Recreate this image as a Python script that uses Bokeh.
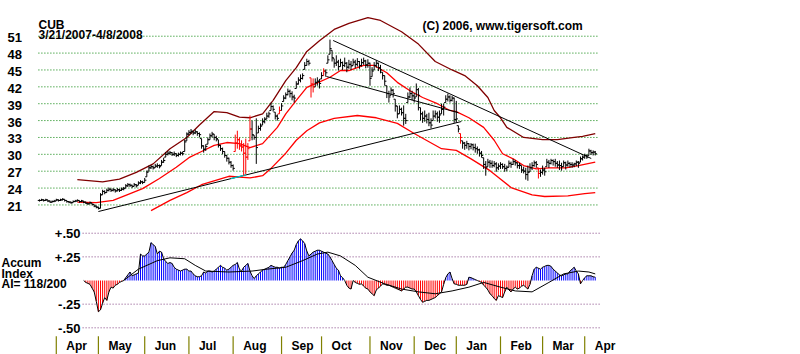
from bokeh.plotting import figure
from bokeh.models import Range1d, Label, ColumnDataSource
from bokeh.embed import file_html
from bokeh.resources import INLINE

# ---------------- data ----------------
closes = [
    21.8, 21.9, 21.8, 21.9, 21.7, 21.5, 21.6, 21.7, 21.9, 21.8,
    21.9, 22.0, 21.8, 21.6, 21.5, 21.4, 21.6, 21.7, 21.8, 21.6,
    21.7, 21.5, 21.3, 21.2, 21.4, 21.1, 20.8, 20.6, 20.4, 22.8,
    23.4, 23.2, 23.6, 23.8, 23.6, 23.7, 23.5, 23.7, 23.6, 23.8,
    23.9, 24.4, 24.6, 24.5, 24.3, 24.6, 24.4, 24.9, 25.1, 25.0,
    25.4, 26.8, 27.6, 27.8, 27.6, 27.9, 28.0, 27.8, 28.6, 28.9,
    30.0, 30.2, 30.3, 30.0, 30.1, 29.8, 30.0, 30.2, 30.1, 32.2,
    33.6, 33.9, 34.1, 33.8, 34.0, 33.7, 33.5, 31.5, 30.9, 31.4,
    32.6, 33.3, 33.6, 33.0, 32.8, 31.6, 31.0, 30.5, 29.8, 29.3,
    28.6, 28.0, 27.5, 32.0, 32.6, 31.5, 31.3, 30.2, 29.5, 31.0,
    34.5, 33.5, 33.0, 31.2, 34.6, 35.0, 35.8, 36.2, 36.8, 37.2,
    38.5, 38.0, 36.8, 36.4, 37.8, 38.6, 40.0, 40.6, 41.2, 40.8,
    40.2, 40.0, 42.5, 43.2, 43.5, 44.0, 45.8, 46.5, 46.2, 42.5,
    42.0, 42.8, 43.0, 42.6, 44.0, 44.8, 44.5, 46.8, 48.8, 47.2,
    46.2, 46.4, 45.6, 46.3, 45.8, 46.2, 45.5, 46.0, 45.7, 46.4,
    46.0, 46.5, 45.8, 46.3, 46.6, 45.9, 46.2, 43.5, 44.8, 45.8,
    46.2, 45.4, 45.0, 44.0, 43.0, 40.8, 40.2, 41.4, 40.8, 38.6,
    37.2, 38.0, 37.4, 36.4, 36.0, 40.2, 40.8, 40.4, 40.0, 41.5,
    40.5, 37.2, 36.4, 36.8, 36.2, 35.6, 35.2, 36.8, 37.2, 36.6,
    37.0, 38.0, 38.4, 39.8, 40.2, 39.6, 40.0, 36.2, 36.3, 34.5,
    33.0, 32.0, 31.6, 31.9, 31.4, 31.7, 31.2, 31.0, 30.8, 30.2,
    29.8, 28.2, 27.6, 28.6, 28.4, 28.0, 28.3, 27.6, 27.9, 28.2,
    27.8, 27.5, 27.7, 28.4, 28.2, 28.7, 28.5, 28.0, 28.1, 27.2,
    27.0, 26.4, 26.8, 27.6, 28.0, 28.5, 28.2, 26.6, 26.8, 27.2,
    26.9, 28.6, 28.4, 28.9, 28.7, 28.4, 28.1, 28.0, 27.8, 28.5,
    28.1, 28.4, 28.2, 28.1, 28.3, 28.6, 28.4, 29.2, 29.5, 29.8,
    29.5, 30.6, 30.3, 30.4, 30.1,
]
highs = [
    22.0, 22.1, 22.0, 22.1, 21.9, 21.8, 21.8, 21.9, 22.1, 22.0,
    22.1, 22.2, 22.0, 21.8, 21.7, 21.6, 21.8, 21.9, 22.0, 21.8,
    21.9, 21.7, 21.6, 21.4, 21.6, 21.3, 21.1, 20.9, 20.7, 23.1,
    23.7, 23.6, 23.9, 24.1, 23.9, 24.0, 23.8, 24.0, 23.9, 24.1,
    24.2, 24.7, 24.9, 24.8, 24.6, 24.9, 24.7, 25.2, 25.4, 25.3,
    25.8, 27.1, 28.0, 28.1, 28.0, 28.3, 28.4, 28.2, 29.0, 29.4,
    30.4, 30.6, 30.6, 30.4, 30.5, 30.2, 30.3, 30.5, 30.5, 32.6,
    33.9, 34.3, 34.5, 34.2, 34.4, 34.1, 33.9, 32.8, 31.6, 31.8,
    33.0, 33.7, 34.0, 33.6, 33.3, 32.6, 31.7, 31.2, 30.5, 29.9,
    29.4, 28.8, 28.2, 33.5, 34.2, 33.0, 32.5, 32.0, 32.8, 32.0,
    36.9, 36.0, 33.4, 36.4, 35.1, 35.5, 36.4, 36.6, 37.4, 37.6,
    39.2, 38.7, 37.5, 37.1, 38.5, 39.1, 40.5, 41.0, 41.7, 41.5,
    41.2, 40.6, 43.0, 43.7, 44.2, 44.4, 46.4, 47.0, 46.8, 43.6,
    43.5, 43.5, 43.7, 43.4, 44.6, 45.3, 45.1, 47.6, 50.4, 48.5,
    47.0, 47.6, 46.8, 47.0, 46.5, 47.2, 46.4, 46.8, 46.6, 47.0,
    46.8, 47.1, 46.6, 47.0, 47.2, 46.8, 46.9, 46.3, 45.5, 46.4,
    46.7, 46.3, 45.9, 44.6, 44.0, 42.2, 41.3, 41.9, 41.6, 39.8,
    38.6, 38.7, 38.3, 38.7, 37.2, 41.0, 41.9, 41.3, 40.9, 42.6,
    41.8, 38.3, 37.6, 37.8, 37.2, 37.4, 36.4, 37.8, 37.8, 37.6,
    37.8, 39.0, 39.0, 40.5, 40.8, 40.5, 40.4, 40.1, 39.5, 35.1,
    33.7, 32.4, 32.2, 32.4, 32.0, 32.0, 31.9, 31.9, 31.4, 31.0,
    30.6, 29.4, 28.8, 29.2, 29.0, 28.9, 28.8, 28.6, 28.4, 28.6,
    28.4, 28.3, 28.0, 28.9, 28.7, 29.2, 29.0, 28.6, 28.5, 28.0,
    27.8, 27.6, 28.0, 28.4, 28.6, 28.9, 28.8, 27.6, 27.3, 28.0,
    27.6, 29.2, 29.0, 29.2, 29.1, 29.2, 28.8, 28.9, 28.5, 28.9,
    28.7, 28.9, 28.6, 28.6, 28.5, 28.9, 28.8, 29.6, 29.8, 30.1,
    30.0, 31.0, 30.8, 30.7, 30.6,
]
lows = [
    21.6, 21.7, 21.6, 21.7, 21.5, 21.4, 21.4, 21.5, 21.7, 21.6,
    21.7, 21.8, 21.6, 21.4, 21.3, 21.2, 21.4, 21.5, 21.6, 21.4,
    21.5, 21.3, 21.2, 21.0, 21.2, 20.9, 20.6, 20.4, 20.2, 20.4,
    22.8, 22.9, 23.2, 23.4, 23.3, 23.4, 23.2, 23.4, 23.3, 23.5,
    23.6, 24.0, 24.2, 24.2, 24.0, 24.3, 24.1, 24.5, 24.7, 24.7,
    25.0, 26.0, 27.0, 27.4, 27.3, 27.6, 27.6, 27.5, 28.0, 28.5,
    29.5, 29.8, 29.9, 29.7, 29.7, 29.5, 29.6, 29.8, 29.8, 30.5,
    32.4, 33.4, 33.6, 33.4, 33.6, 33.3, 33.0, 31.0, 30.3, 30.6,
    31.8, 32.6, 33.0, 32.5, 32.3, 31.2, 30.6, 30.0, 29.4, 28.7,
    28.2, 27.6, 27.1, 30.5, 31.0, 30.8, 30.5, 26.2, 26.5, 29.0,
    32.4, 32.5, 32.6, 28.3, 33.8, 34.2, 35.2, 35.5, 36.3, 36.5,
    37.8, 37.6, 36.2, 36.0, 37.2, 37.8, 39.4, 39.8, 40.5, 40.1,
    39.6, 39.2, 41.7, 42.4, 42.8, 43.3, 45.1, 45.8, 45.8, 40.1,
    41.0, 42.0, 42.2, 41.7, 43.4, 44.0, 43.8, 46.2, 47.8, 46.5,
    45.4, 45.7, 44.9, 45.6, 45.0, 45.5, 44.6, 45.2, 45.0, 45.8,
    45.3, 45.6, 45.2, 45.6, 45.9, 45.3, 45.4, 42.2, 43.8, 45.0,
    45.4, 44.8, 44.4, 43.3, 42.2, 40.0, 39.2, 40.5, 40.1, 37.6,
    36.4, 37.2, 36.9, 35.1, 35.4, 39.2, 40.0, 39.6, 39.2, 40.2,
    37.8, 36.0, 35.6, 35.8, 35.5, 35.0, 34.6, 36.0, 36.4, 35.8,
    35.6, 37.2, 36.9, 39.2, 39.4, 39.2, 39.4, 35.6, 35.6, 33.9,
    31.9, 31.0, 30.8, 31.0, 30.7, 30.9, 30.7, 30.3, 30.1, 29.6,
    29.4, 27.4, 26.2, 27.8, 27.6, 27.6, 27.7, 26.9, 27.2, 27.4,
    27.4, 26.9, 27.0, 27.7, 27.6, 28.1, 28.0, 27.5, 27.4, 26.7,
    26.6, 25.5, 25.3, 26.9, 27.2, 27.8, 27.6, 25.7, 26.0, 26.4,
    26.2, 27.8, 27.6, 28.2, 28.0, 27.8, 27.6, 27.2, 27.1, 27.8,
    27.3, 27.8, 27.6, 27.6, 27.7, 27.9, 27.6, 28.6, 28.9, 29.2,
    29.2, 29.8, 29.9, 29.8, 29.8,
]
red_bars = [93, 94, 95, 96, 97, 98, 99, 100, 114, 129, 130, 135, 200, 237]

upper_idx = [18, 30, 38, 46, 54, 62, 70, 76, 83, 89, 95, 100, 106, 111, 117, 122,
             127, 133, 140, 147, 156, 162, 172, 180, 188, 196, 202, 208, 213, 216,
             219, 222, 230, 239, 246, 254, 258, 264]
upper_val = [25.5, 25.1, 25.6, 26.8, 28.3, 31.0, 33.0, 35.2, 37.6, 37.4, 36.6, 36.5,
             37.2, 39.6, 43.1, 45.4, 48.3, 50.2, 52.2, 53.3, 54.3, 53.8, 51.8, 49.6,
             46.5, 45.0, 44.0, 42.2, 40.1, 37.8, 36.5, 34.8, 33.0, 32.6, 32.6, 33.0,
             33.2, 33.7]
mid_idx = [18, 27, 35, 41, 49, 57, 65, 71, 77, 83, 89, 95, 100, 106, 113, 117, 122,
           127, 132, 138, 143, 147, 154, 159, 165, 170, 176, 182, 189, 195, 198, 204,
           211, 216, 220, 225, 230, 236, 242, 250, 256, 264]
mid_val = [21.5, 21.4, 21.8, 22.7, 23.9, 25.7, 27.7, 29.4, 30.5, 31.6, 32.1, 31.9,
           31.2, 31.9, 34.8, 37.2, 39.6, 41.9, 42.7, 43.7, 44.9, 44.9, 45.8, 45.8,
           44.5, 42.8, 41.3, 40.1, 39.0, 37.8, 37.6, 36.5, 34.8, 32.5, 30.1, 29.2,
           28.0, 27.4, 27.6, 27.6, 28.0, 28.6]
lower_idx = [53, 62, 70, 77, 90, 100, 106, 110, 117, 122, 127, 133, 140, 151, 160,
             170, 178, 191, 198, 205, 214, 224, 234, 240, 251, 259, 264]
lower_val = [20.0, 21.8, 23.2, 24.6, 26.1, 25.8, 26.2, 27.5, 30.2, 32.5, 34.2, 35.6,
             36.4, 36.9, 36.5, 35.5, 33.7, 31.0, 30.7, 29.2, 27.1, 24.1, 22.8, 22.5,
             22.6, 23.0, 23.2]

rise_line_idx = [28, 200.4]
rise_line_val = [19.83, 35.83]
rise_cyan_idx = [91, 98]
rise_cyan_val = [25.68, 26.33]
fall_line_idx = [139.5, 262.1]
fall_line_val = [50.24, 29.26]
chan_line_idx = [136.3, 199.0]
chan_line_val = [43.84, 37.4]

ai_start = 21
ai_vals = [
    0.00, -0.02, -0.03, -0.04, -0.08, -0.12, -0.22, -0.33, -0.31, -0.24,
    -0.18, -0.21, -0.12, -0.07, -0.08, -0.05, -0.04, -0.02, -0.01, 0.00,
    0.03, 0.06, 0.09, 0.05, 0.06, 0.07, 0.08, 0.28, 0.26, 0.26,
    0.28, 0.30, 0.40, 0.38, 0.36, 0.28, 0.31, 0.30, 0.23, 0.20,
    0.18, 0.19, 0.18, 0.14, 0.12, 0.11, 0.10, 0.11, 0.12, 0.12,
    0.10, 0.10, 0.07, 0.05, 0.04, 0.04, 0.05, 0.09, 0.08, 0.10,
    0.10, 0.09, 0.10, 0.12, 0.14, 0.16, 0.14, 0.13, 0.11, 0.12,
    0.14, 0.16, 0.17, 0.19, 0.12, 0.10, 0.14, 0.16, 0.18, 0.10,
    0.05, 0.02, 0.05, 0.07, 0.09, 0.11, 0.12, 0.13, 0.14, 0.16,
    0.15, 0.14, 0.14, 0.13, 0.14, 0.14, 0.17, 0.21, 0.25, 0.29,
    0.32, 0.38, 0.42, 0.44, 0.42, 0.39, 0.31, 0.26, 0.28, 0.30,
    0.31, 0.32, 0.32, 0.31, 0.30, 0.29, 0.28, 0.25, 0.21, 0.17,
    0.13, 0.11, 0.05, 0.03, 0.00, -0.05, -0.08, -0.09, 0.00, -0.02,
    -0.03, -0.04, -0.035, -0.06, -0.08, -0.09, -0.12, -0.14, -0.16, -0.10,
    -0.08, -0.06, -0.035, -0.04, -0.05, -0.05, -0.06, -0.07, -0.08, -0.09,
    -0.10, -0.11, -0.09, -0.07, -0.07, -0.08, -0.09, -0.09, -0.12, -0.16,
    -0.20, -0.23, -0.22, -0.21, -0.21, -0.20, -0.19, -0.18, -0.16, -0.14,
    -0.12, -0.04, 0.03, 0.07, 0.09, 0.02, -0.035, -0.04, -0.05, -0.05,
    -0.05, -0.05, -0.04, 0.035, 0.03, 0.02, 0.01, 0.00, -0.01, -0.02,
    -0.05, -0.07, -0.10, -0.14, -0.16, -0.19, -0.21, -0.16, -0.17, -0.18,
    -0.12, -0.07, -0.10, -0.12, -0.09, -0.07, -0.09, -0.08, -0.06, -0.05,
    -0.07, -0.09, -0.04, 0.05, 0.12, 0.14, 0.13, 0.12, 0.14, 0.15,
    0.16, 0.16, 0.15, 0.12, 0.10, 0.08, 0.06, 0.05, 0.06, 0.07,
    0.07, 0.10, 0.12, 0.14, 0.10, 0.07, -0.035, 0.00, 0.03, 0.05,
    0.05, 0.05, 0.04, 0.035,
]
ai_ma_idx = [40, 47, 56, 62, 69, 74, 79, 90, 101, 108, 117, 125, 132, 137, 143, 150,
             156, 164, 172, 180, 188, 196, 204, 211, 219, 226, 234, 242, 249, 256,
             261, 264]
ai_ma_val = [0.0, 0.12, 0.21, 0.24, 0.23, 0.16, 0.10, 0.09, 0.10, 0.12, 0.14, 0.21,
             0.28, 0.30, 0.26, 0.16, 0.035, -0.035, -0.09, -0.12, -0.14, -0.11,
             -0.07, -0.02, -0.07, -0.11, -0.12, -0.02, 0.07, 0.10, 0.09, 0.07]

price_ticks = [51, 48, 45, 42, 39, 36, 33, 30, 27, 24, 21]
price_tick_labels = ["51", "48", "45", "42", "39", "36", "33", "30", "27", "24", "21"]
ai_ticks = [0.5, 0.25, -0.25, -0.5]
ai_tick_labels = ["+.50", "+.25", "-.25", "-.50"]
month_idx = [8, 28, 50, 71, 92, 115, 134, 157, 178, 198, 219, 239, 259]
month_labels = ["Apr", "May", "Jun", "Jul", "Aug", "Sep", "Oct", "Nov", "Dec",
                "Jan", "Feb", "Mar", "Apr"]

ticker = "CUB"
date_span = "3/21/2007-4/8/2008"
credit = "(C) 2006, www.tigersoft.com"
ai_title = ["Accum", "Index", "AI= 118/200"]

for name, arr in (("highs", highs), ("lows", lows)):
    if len(arr) != len(closes):
        raise ValueError(f"{name} length {len(arr)} != {len(closes)}")

# ---------------- figure ----------------
FONT = "Liberation Sans"
n = len(closes)
idx = list(range(n))
opens = [closes[0]] + [min(max(closes[k - 1], lows[k]), highs[k]) for k in range(1, n)]
bar_colors = ["#ff0000" if k in red_bars else "#000000" for k in idx]

p = figure(width=800, height=354, x_range=Range1d(-18.5, 361.5),
           y_range=Range1d(-5.59, 57.35), output_backend="svg",
           toolbar_location=None, min_border=0,
           x_axis_location=None, y_axis_location=None)
p.extra_y_ranges = {"ai": Range1d(-0.782, 2.96)}
p.grid.visible = False
p.outline_line_color = None
p.background_fill_color = "white"
p.border_fill_color = "white"

# grids
p.segment(x0=-0.5, x1=265.8, y0=price_ticks, y1=price_ticks,
          line_color="#008000", line_dash="1 2", line_width=1)
p.segment(x0=20.5, x1=266.5, y0=ai_ticks, y1=ai_ticks, y_range_name="ai",
          line_color="#804080", line_dash="1 2", line_width=1)

# bands
p.line(upper_idx, upper_val, line_color="#800000", line_width=1.3)
p.line(lower_idx, lower_val, line_color="#ff0000", line_width=1.3)
p.line(mid_idx, mid_val, line_color="#ff0000", line_width=1.3)

# trend lines
p.line(rise_line_idx, rise_line_val, line_color="#000000", line_width=1)
p.line(rise_cyan_idx, rise_cyan_val, line_color="#00c8c8", line_width=1.3)
p.line(fall_line_idx, fall_line_val, line_color="#000000", line_width=1)
p.line(chan_line_idx, chan_line_val, line_color="#000000", line_width=1)

# price bars
src = ColumnDataSource(dict(
    x=idx, xl=[k - 0.8 for k in idx], xr=[k + 0.8 for k in idx],
    o=opens, h=highs, l=lows, c=closes, col=bar_colors))
p.segment(x0="x", y0="l", x1="x", y1="h", line_color="col", line_width=1, source=src)
p.segment(x0="xl", y0="o", x1="x", y1="o", line_color="col", line_width=1, source=src)
p.segment(x0="x", y0="c", x1="xr", y1="c", line_color="col", line_width=1, source=src)

# accumulation index
ai_idx = list(range(ai_start, ai_start + len(ai_vals)))
ai_cols = ["#0000ff" if v > 0 else "#ff0000" for v in ai_vals]
p.segment(x0=ai_idx, x1=ai_idx, y0=[0] * len(ai_vals), y1=ai_vals,
          line_color=ai_cols, line_width=1, y_range_name="ai")
p.line(ai_idx, ai_vals, line_color="#000000", line_width=1, y_range_name="ai")
p.line(ai_ma_idx, ai_ma_val, line_color="#000000", line_width=1, y_range_name="ai")

# month ticks
p.segment(x0=month_idx, x1=month_idx, y0=-0.59, y1=-0.80, y_range_name="ai",
          line_color="#808000", line_width=1.2)

def lab(text, x, y, xu="screen", yu="screen", align="left", base="alphabetic",
        yr="default", xo=0, yo=0, size="12px"):
    p.add_layout(Label(x=x, y=y, x_units=xu, y_units=yu, text=text,
                       text_font=FONT, text_font_style="bold", text_font_size=size,
                       text_align=align, text_baseline=base, text_color="#000000",
                       y_range_name=yr, x_offset=xo, y_offset=yo))

for t, s in zip(price_ticks, price_tick_labels):
    lab(s, 7, t, yu="data", base="middle", yo=-1.5, size="13px")
for t, s in zip(ai_ticks, ai_tick_labels):
    lab(s, 80, t, yu="data", align="right", base="middle", yr="ai", yo=-0.5, size="13px")
for m, s in zip(month_idx, month_labels):
    lab(s, m, 1.5, xu="data", xo=10, base="bottom", size="12px")

lab(ticker, 38, 330)
lab(date_span, 38, 320)
lab(credit, 422, 329)
lab(ai_title[0], 1, 91.5)
lab(ai_title[1], 1, 81)
lab(ai_title[2], 1, 70.5)

open("out.html", "w").write(file_html(p, INLINE))
